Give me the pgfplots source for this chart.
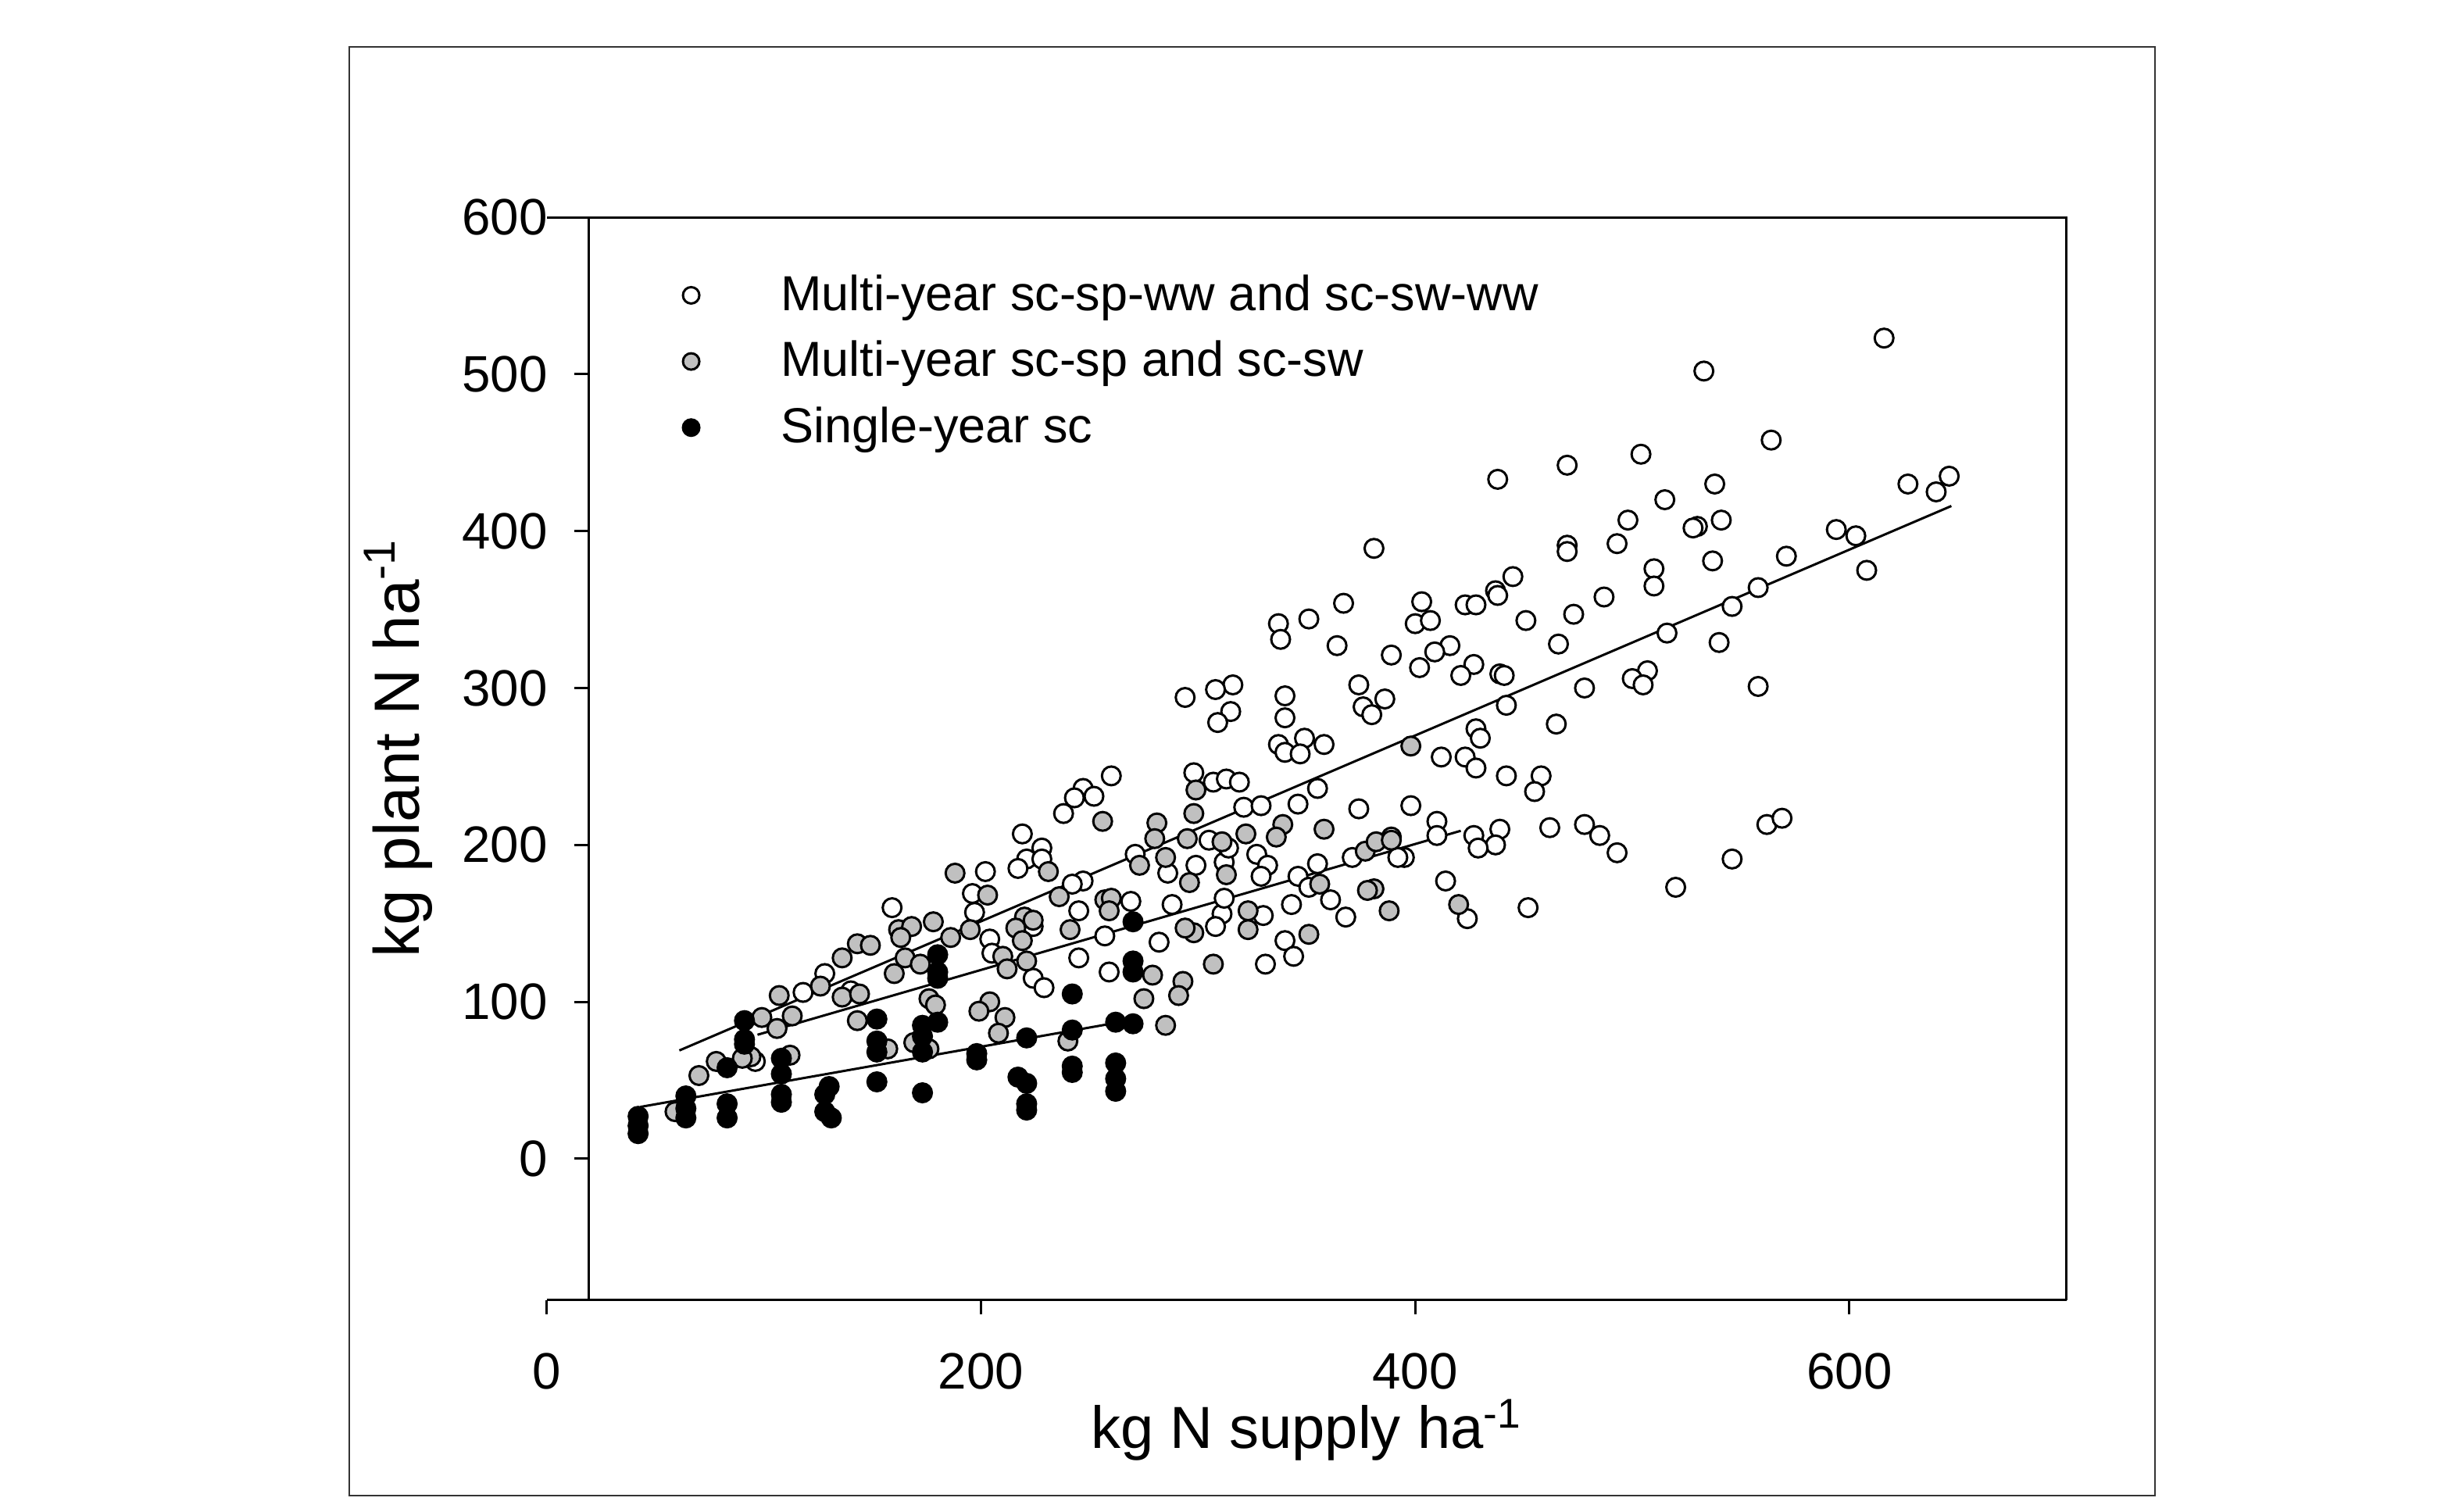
\documentclass[border=0pt]{standalone}
\usepackage{fontspec}
\setmainfont{Liberation Sans}
\usepackage{pgfplots}
\usepackage{pgfplotstable}
\pgfplotsset{compat=1.18}
\definecolor{silv}{RGB}{192,192,192}

\pgfplotstableread{
x y
616 523
533 502
564 458
504 449
470 442
538 430
627 430
646 435
640 425
515 420
498 407
530 403
528 402
541 407
470 391
470 387
493 392
594 401
603 397
537 381
571 384
608 375
510 376
510 365
487 358
473 347
558 364
546 352
466 328
516 335
540 329
507 311
500 306
505 302
478 300
558 301
465 277
478 213
485 206
493 195
520 173
546 191
562 213
569 217
438 433
381 389
445 371
437 362
438 359
423 353
428 353
367 354
403 355
451 343
337 341
338 331
351 344
400 341
407 343
364 327
389 321
416 327
409 323
402 313
427 315
421 308
439 309
441 308
316 302
308 299
294 294
374 302
340 295
386 293
376 288
380 283
315 285
309 278
340 281
442 289
428 274
430 268
349 268
337 264
340 259
347 258
358 264
412 256
423 256
428 249
442 244
458 244
455 234
298 246
307 240
313 242
319 240
321 224
329 225
346 226
355 236
374 223
398 225
410 215
410 206
462 211
439 210
427 206
437 200
429 198
414 177
424 153
452 160
395 192
392 192
371 192
389 205
355 188
346 180
351 173
361 165
368 154
343 162
340 139
344 129
331 124
330 155
311 156
308 148
312 166
299 187
312 189
327 194
332 187
329 180
314 198
305 203
247 177
242 175
269 164
245 158
257 142
245 128
259 119
282 138
224 115
229 109
204 140
205 131
224 148
288 162
286 182
260 244
247 236
243 230
252 231
238 220
219 207
228 198
221 191
228 191
217 185
202 183
271 194
159 160
128 118
118 106
140 107
196 169
197 157
96 62
}\whitedata

\pgfplotstableread{
x y
398 263
299 235
298 220
295 204
311 202
322 207
339 213
336 205
358 210
313 181
296 176
356 175
377 196
382 202
389 203
381 172
378 171
388 158
420 162
323 158
323 146
298 144
294 147
351 143
307 124
256 215
231 183
281 214
280 204
285 192
273 187
236 167
257 165
260 166
259 158
203 168
220 154
224 152
216 147
219 139
241 146
210 129
212 121
221 126
279 117
275 102
293 113
291 104
285 85
204 100
211 90
208 80
240 75
59 30
70 53
78 62
94 65
90 64
99 90
106 83
113 91
112 66
107 104
126 110
136 128
143 137
149 136
136 103
144 105
143 88
157 70
160 118
165 128
172 124
162 146
168 148
178 151
163 141
176 102
179 98
169 74
176 70
186 141
195 146
188 182
199 94
}\graydata

\pgfplotstableread{
x y
42 27
42 21
42 16
64 40
64 32
64 26
83 35
83 26
83 58
91 88
91 76
91 73
108 64
108 54
108 41
108 36
130 46
128 41
128 30
131 26
152 89
152 75
152 68
152 49
173 85
173 78
173 68
173 42
180 130
180 119
180 115
180 87
198 67
198 63
270 151
270 126
270 119
242 105
221 77
242 82
262 87
270 86
217 52
221 48
221 35
221 31
242 59
242 55
262 61
262 51
262 43
}\blackdata

\begin{document}
\begin{tikzpicture}
\begin{axis}[
  x=0.5556pt, y=0.4016pt,
  xmin=0, xmax=700, ymin=-90, ymax=600,
  axis x line=bottom, axis y line=left,
  axis y line shift=-10.8pt,
  axis line style={-, line width=0.6pt, black},
  tick align=outside, major tick length=3.7pt,
  tick style={line width=0.6pt, black},
  xtick={0,200,400,600}, ytick={0,100,200,300,400,500,600},
  minor tick num=0,
  clip=false,
  /pgf/number format/assume math mode=true,
  ticklabel style={font=\fontsize{13.1}{15}\selectfont},
  yticklabel style={xshift=-3.4pt},
  xticklabel style={yshift=-6.4pt},
  xlabel={kg N supply ha\textsuperscript{-1}},
  ylabel={kg plant N ha\textsuperscript{-1}},
  xlabel style={font=\fontsize{15.2}{18}\selectfont, at={(axis description cs:0.5,-0.1374)}, anchor=base},
  ylabel style={font=\fontsize{16.4}{19}\selectfont, at={(axis description cs:-0.0977,0.51)}, anchor=center},
  legend style={draw=none, fill=none, at={(axis cs:62.3,564)}, anchor=north west,
    font=\fontsize{12.6}{14}\selectfont, row sep=6.3pt, column sep=20.8pt, inner sep=0pt,
    nodes={inner sep=0pt}},
  legend cell align=left,
  legend image code/.code={\draw[#1, mark size=2.1pt] plot coordinates {(0pt,0pt)};},
]
\addplot[only marks, mark=*, mark size=2.4pt, mark options={fill=white, draw=black, line width=0.6pt}] table {\whitedata};
\addlegendentry{Multi-year sc-sp-ww and sc-sw-ww}
\addplot[only marks, mark=*, mark size=2.4pt, mark options={fill=silv, draw=black, line width=0.6pt}] table {\graydata};
\addlegendentry{Multi-year sc-sp and sc-sw}
\addplot[only marks, mark=*, mark size=2.4pt, mark options={fill=black, draw=black, line width=0.6pt}] table {\blackdata};
\addlegendentry{Single-year sc}
\addplot[no marks, line width=0.6pt, black, forget plot] coordinates {(61,69) (647,416)};
\addplot[no marks, line width=0.6pt, black, forget plot] coordinates {(97,79) (421,209)};
\addplot[no marks, line width=0.6pt, black, forget plot] coordinates {(43,33) (272,89)};
\draw[line width=0.6pt] (axis cs:0,600) -- (axis cs:700,600) -- (axis cs:700,-90);
\draw[line width=0.4pt, black!80] (axis cs:-91.1,708.7) rectangle (axis cs:740.8,-214.6);
\path (axis cs:-251.98,738.5) rectangle (axis cs:875.8,-225.1);
\end{axis}
\end{tikzpicture}
\end{document}
